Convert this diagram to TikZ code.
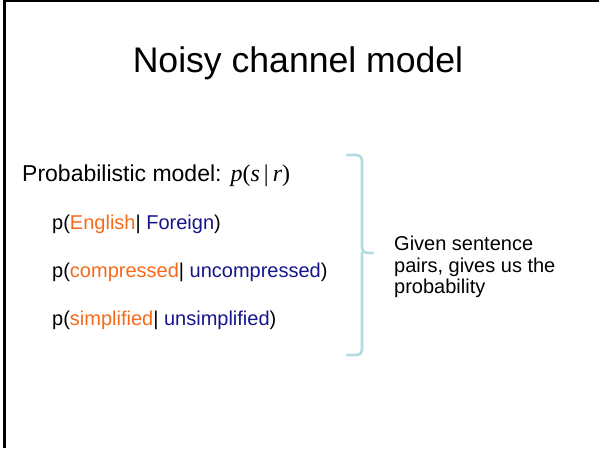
\documentclass[tikz,border=0pt]{standalone}
\usepackage{fontspec}
\setmainfont{Liberation Sans}
\newfontfamily\mathserif{Liberation Serif}
\definecolor{engorange}{RGB}{246,106,26}
\definecolor{engblue}{RGB}{22,22,140}
\definecolor{bracecol}{RGB}{178,219,226}

\begin{document}
\begin{tikzpicture}[x=1pt,y=1pt,
  txt/.style={inner sep=0pt, anchor=base west},
  titletext/.style={inner sep=0pt, anchor=base, font=\fontsize{35.6}{40}\selectfont},
  lvlone/.style={txt, font=\fontsize{23}{27}\selectfont},
  lvltwo/.style={txt, font=\fontsize{20}{23}\selectfont},
  frameline/.style={line width=2.4pt, black},
  bracketline/.style={bracecol, line width=2.6pt, rounded corners=5pt, line cap=round},
]
\useasboundingbox (0,0) rectangle (599,-448);
\fill[white] (0,0) rectangle (599,-448);

% slide frame: left edge and top edge
\draw[frameline] (4.6,0) -- (4.6,-448);
\draw[frameline, line width=2pt] (3.4,-0.9) -- (599,-0.9);

% title
\node[titletext] (title) at (298,-72) {Noisy channel model};

% main statement with the formula
\node[lvlone] (model) at (22,-181) {Probabilistic model:\hspace{9pt}{\mathserif\fontsize{24}{27}\selectfont\itshape p\upshape(\itshape s\upshape\hspace{4pt}|\hspace{4pt}\itshape r\upshape)}};

% examples
\node[lvltwo] (eng) at (52,-229) {p(\textcolor{engorange}{English}| \textcolor{engblue}{Foreign})};
\node[lvltwo] (comp) at (52,-277) {p(\textcolor{engorange}{compressed}| \textcolor{engblue}{uncompressed})};
\node[lvltwo] (simp) at (52,-325) {p(\textcolor{engorange}{simplified}| \textcolor{engblue}{unsimplified})};

% bracket grouping the examples
\coordinate (btop) at (347,-155);
\coordinate (btip) at (362,-253);
\coordinate (bpoint) at (373,-253);
\coordinate (bbot) at (347,-355);
\draw[bracketline] (btop) -| (btip) -- (bpoint);
\draw[bracketline] (btip) |- (bbot);

% explanation
\node[lvltwo] (g1) at (394,-250) {Given sentence};
\node[lvltwo] (g2) at (394,-272) {pairs, gives us the};
\node[lvltwo] (g3) at (394,-293) {probability};
\end{tikzpicture}
\end{document}
